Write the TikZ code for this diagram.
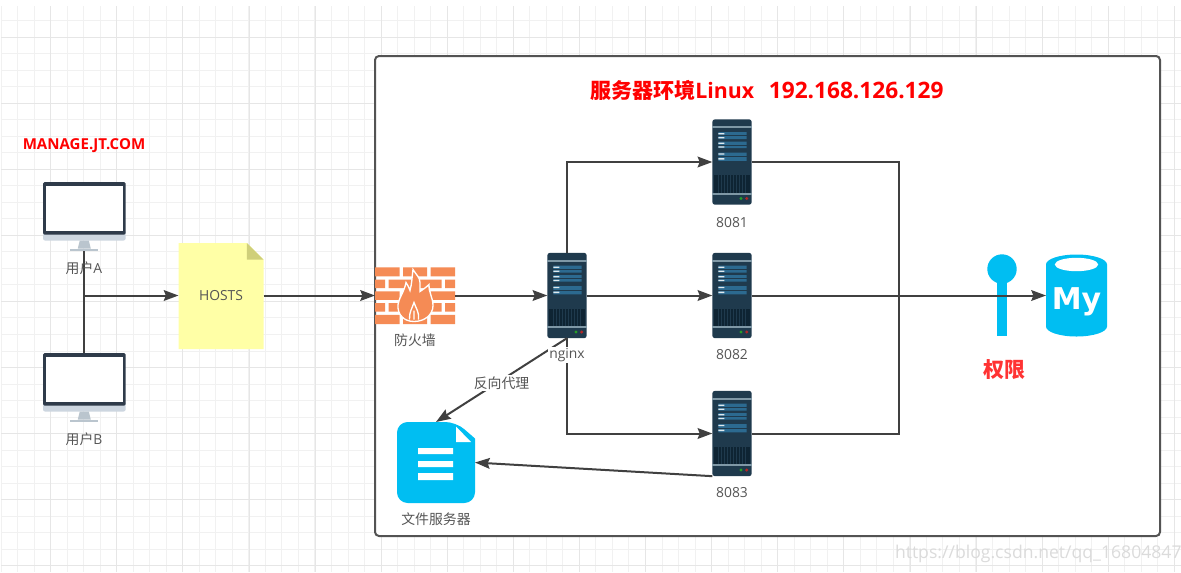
\documentclass[tikz,border=0pt]{standalone}
\usepackage{fontspec}
\usetikzlibrary{arrows.meta}
\setmainfont{Open Sans}
\newfontfamily\cjk{Noto Sans CJK SC}
\newfontfamily\logofont{DejaVu Sans}

\definecolor{griddark}{HTML}{E6E6E6}
\definecolor{gridlight}{HTML}{F1F1F1}
\definecolor{linkgray}{HTML}{404040}
\definecolor{labelgray}{HTML}{555555}
\definecolor{iconblue}{HTML}{00BEF2}
\definecolor{serverbody}{HTML}{1F3A4D}
\definecolor{serverrow}{HTML}{2C6A90}
\definecolor{servergrille}{HTML}{0E2433}
\definecolor{serverband}{HTML}{7F98A6}
\definecolor{screendark}{HTML}{2F3B4A}
\definecolor{screenchin}{HTML}{CDD6E0}
\definecolor{screenstand}{HTML}{BAC5CE}
\definecolor{brickorange}{HTML}{F58B55}
\definecolor{notefill}{HTML}{FFFFA6}
\definecolor{notefold}{HTML}{CFCF7A}

\tikzset{
    iconbox/.style={inner sep=0pt, outer sep=0pt},
    serverbox/.style={iconbox, minimum width=29.5pt, minimum height=64pt},
    monitorbox/.style={iconbox, minimum width=62pt, minimum height=51.5pt},
    iconlabel/.style={inner sep=1pt, text=labelgray, font=\fontsize{10.4}{12}\selectfont},
    redlabel/.style={inner sep=0pt, text=red, font=\bfseries},
    flowline/.style={draw=linkgray, line width=1.5pt},
    flowarrow/.style={flowline, -{Stealth[length=11pt,width=8pt,inset=1.5pt]}},
    server/.pic={
        \fill[serverbody, rounded corners=2pt] (-19.7,-42.7) rectangle (19.7,42.7);
        \fill[serverband] (-19.7,-36) rectangle (19.7,-34);
        \fill[serverrow] (-13.7,-29.8) rectangle (14.7,-22.8) (-13.7,-20.5) rectangle (14.7,-13.8) (-13.7,-9.5) rectangle (14.7,-1.2);
        \draw[serverbody, line width=.5pt] (-13.7,-26.3) -- (14.7,-26.3) (-13.7,-17.1) -- (14.7,-17.1) (-13.7,-5.3) -- (14.7,-5.3);
        \fill[white!85!serverrow] (-13.7,-29) rectangle (-7.7,-27.7) (-13.7,-25) rectangle (-7.7,-23.7) (-13.7,-19.5) rectangle (-7.7,-18.2) (-13.7,-15.7) rectangle (-7.7,-14.4) (-13.7,-8.6) rectangle (-7.7,-7.3) (-13.7,-3.8) rectangle (-7.7,-2.5);
        \fill[servergrille] (-17.7,13) rectangle (17.7,30.5);
        \draw[serverbody, line width=.4pt] (-14,13) -- (-14,30.5) (-11,13) -- (-11,30.5) (-8,13) -- (-8,30.5) (-5,13) -- (-5,30.5) (-2,13) -- (-2,30.5) (1,13) -- (1,30.5) (4,13) -- (4,30.5) (7,13) -- (7,30.5) (10,13) -- (10,30.5) (13,13) -- (13,30.5);
        \fill[serverband] (-19.7,30.5) rectangle (19.7,32.8);
        \fill[green!55!black!85!white] (9,36.5) circle (1.7);
        \fill[red!65!black!85!white] (14.7,36.5) circle (1.7);
    },
    monitor/.pic={
        \fill[screenchin, rounded corners=1.5pt] (-41.3,14) rectangle (41.3,24);
        \fill[screendark, rounded corners=1pt] (-41.3,-34.3) rectangle (41.3,18);
        \fill[white] (-38.3,-30.3) rectangle (38.3,14.7);
        \fill[screenstand] (-4.5,24) -- (4.5,24) -- (6.5,32) -- (-6.5,32) -- cycle;
        \fill[screenstand] (-14,32) rectangle (14,34.3);
    },
    firewall/.pic={
        \fill[brickorange] (-40,-28.2) rectangle (-15.5,-19.2) (-12,-28.2) rectangle (12,-19.2) (15.5,-28.2) rectangle (40,-19.2);
        \fill[brickorange] (-40,-16) rectangle (-30,-7.4) (-26.5,-16) rectangle (-1.5,-7.4) (1.5,-16) rectangle (26.5,-7.4) (30,-16) rectangle (40,-7.4);
        \fill[brickorange] (-40,-4.2) rectangle (-15.5,4.4) (-12,-4.2) rectangle (12,4.4) (15.5,-4.2) rectangle (40,4.4);
        \fill[brickorange] (-40,7.6) rectangle (-30,16.2) (-26.5,7.6) rectangle (-1.5,16.2) (1.5,7.6) rectangle (26.5,16.2) (30,7.6) rectangle (40,16.2);
        \fill[brickorange] (-40,19.4) rectangle (-15.5,28.5) (-12,19.4) rectangle (12,28.5) (15.5,19.4) rectangle (40,28.5);
        \fill[brickorange, draw=white, line width=1pt] (-1,26) .. controls (-11,26) and (-18,19) .. (-17,9) .. controls (-16,2) and (-11,-3) .. (-9,-13) .. controls (-7,-10) and (-6,-8) .. (-5,-5) .. controls (-3,-12) and (-3,-19) .. (-2,-26) .. controls (1,-21) and (5,-18) .. (5,-13) .. controls (5,-9) and (5,-6) .. (5,-4) .. controls (8,-6) and (11,-8) .. (14,-11) .. controls (13,-5) and (18,2) .. (18,10) .. controls (18,19) and (10,26) .. (-1,26) -- cycle;
        \draw[white, line width=1pt] (-5.5,24) .. controls (-6,17) and (-3,13) .. (-1,7) .. controls (1,13) and (4.5,17) .. (3.5,24) (-1,15) -- (-1,24);
    },
    notepage/.pic={
        \fill[notefill] (-42.5,-53) -- (25.8,-53) -- (42.5,-36.3) -- (42.5,53) -- (-42.5,53) -- cycle;
        \fill[notefold] (25.8,-53) -- (42.5,-36.3) -- (25.8,-36.3) -- cycle;
    },
    filepage/.pic={
        \fill[iconblue] (39,-24) [rounded corners=8pt] -- (39,40.5) -- (-39,40.5) -- (-39,-40.5) -- (20,-40.5) [sharp corners] -- cycle;
        \fill[white] (20,-36) -- (35,-20.5) -- (20,-20.5) -- cycle;
        \fill[white] (-18,-14.5) rectangle (17,-8.5) (-18,-1.5) rectangle (17,4.5) (-18,10.5) rectangle (17,17.5);
    },
    database/.pic={
        \fill[iconblue] (-30.5,-31) -- (-30.5,31) arc[start angle=180, end angle=360, x radius=30.5, y radius=-10] -- (30.5,-31) arc[start angle=0, end angle=180, x radius=30.5, y radius=-10] -- cycle;
        \fill[white] (0,-31) ellipse (21.7 and 6.7);
        \node[iconbox, text=white, font=\logofont\bfseries\fontsize{22.5}{24}\selectfont] (mylogo) at (0,6) {My};
    },
    permission/.pic={
        \fill[iconblue] (-5,-26) rectangle (5,41);
        \fill[iconblue] (0,-26) circle (14.7);
    }
}

\begin{document}
\begin{tikzpicture}[x=0.75pt, y=-0.75pt]

    \useasboundingbox (0,0) rectangle (1181,572);
    \fill[white] (0,0) rectangle (1181,572);

    \begin{scope}
        \clip (1,6) rectangle (1181,572);
        \draw[gridlight, line width=.75pt, step=12.39375pt, shift={(1,4)}] (-1,1) grid (1180,568);
        \draw[griddark, line width=.75pt, step=49.575pt, shift={(50.7,37)}] (-50,-31) grid (1130,535);
    \end{scope}

    \draw[fill=white, draw=linkgray!90, line width=1.5pt, rounded corners=3pt] (375,56) rectangle (1160,536);

    \pic at (84.3,216.5) {monitor};
    \pic at (84.3,387.5) {monitor};
    \pic at (221,296) {notepage};
    \pic at (415,295.5) {firewall};
    \pic at (567,295.5) {server};
    \pic at (732,162) {server};
    \pic at (732,295.5) {server};
    \pic at (732,433.5) {server};
    \pic at (436,462.5) {filepage};
    \pic at (1002,295) {permission};
    \pic at (1076.5,295.5) {database};

    \node[monitorbox] (userA) at (84.3,216.5) {};
    \node[monitorbox] (userB) at (84.3,387.5) {};
    \node[iconbox, minimum width=63.75pt, minimum height=79.5pt, text=labelgray, font=\fontsize{10.4}{12}\selectfont] (hosts) at (221,295.5) {HOSTS};
    \node[iconbox, minimum width=60pt, minimum height=42.75pt] (wall) at (415,295.5) {};
    \node[serverbox] (nginx) at (567,295.5) {};
    \node[serverbox] (app1) at (732,162) {};
    \node[serverbox] (app2) at (732,295.5) {};
    \node[serverbox] (app3) at (732,433.5) {};
    \node[iconbox, minimum width=58.5pt, minimum height=60.75pt] (files) at (436,462.5) {};
    \node[iconbox, minimum width=45.75pt, minimum height=61.5pt] (mysql) at (1076.5,295.5) {};

    \coordinate (usersjoin) at (84.3,295.5);
    \coordinate (appsjoin) at (899,295.5);

    \draw[flowline] (userB.north) -- (userA.south);
    \draw[flowarrow] (usersjoin) -- (hosts.west);
    \draw[flowarrow] (hosts.east) -- (wall.west);
    \draw[flowarrow] (wall.east) -- (nginx.west);
    \draw[flowarrow] (nginx.north) |- (app1.west);
    \draw[flowarrow] (nginx.east) -- (app2.west);
    \draw[flowarrow] (nginx.south) |- (app3.west);
    \draw[flowline] (app1.east) -| (appsjoin);
    \draw[flowline] (app3.east) -| (appsjoin);
    \draw[flowarrow] (app2.east) -- (mysql.west);
    \draw[flowarrow] (app3.south west) -- (files.east);
    \draw[flowarrow] (nginx.south) -- (files.north) node[midway, iconlabel, fill=white, yshift=-2pt] (proxytext) {\cjk 反向代理};

    \node[iconlabel] (userAtext) at (84,268) {\cjk 用户\rmfamily A};
    \node[iconlabel] (userBtext) at (84,439) {\cjk 用户\rmfamily B};
    \node[iconlabel] (walltext) at (415,340) {\cjk 防火墙};
    \node[iconlabel, fill=white] (nginxtext) at (567,355) {nginx};
    \node[iconlabel] (app1text) at (732,223) {8081};
    \node[iconlabel] (app2text) at (732,355) {8082};
    \node[iconlabel] (app3text) at (732,493) {8083};
    \node[iconlabel] (filestext) at (436,519) {\cjk 文件服务器};

    \node[redlabel, anchor=west, font=\bfseries\fontsize{11.3}{13}\selectfont] (domain) at (22.5,146) {MANAGE.JT.COM};
    \node[redlabel, anchor=west, font=\bfseries\fontsize{17}{20}\selectfont] (title) at (590,90) {{\cjk\bfseries\fontsize{15.75}{20}\selectfont 服务器环境}{\fontsize{16}{20}\selectfont Linux}\hspace{11pt}192.168.126.129};
    \node[redlabel, text=red!80!white, font=\cjk\bfseries\fontsize{15.75}{20}\selectfont] (authtext) at (1004.5,370) {权限};

    \node[iconbox, anchor=west, text=black!14, font=\fontsize{13.2}{16}\selectfont] (watermark) at (895,554) {https://blog.csdn.net/qq\_16804847};

\end{tikzpicture}
\end{document}
